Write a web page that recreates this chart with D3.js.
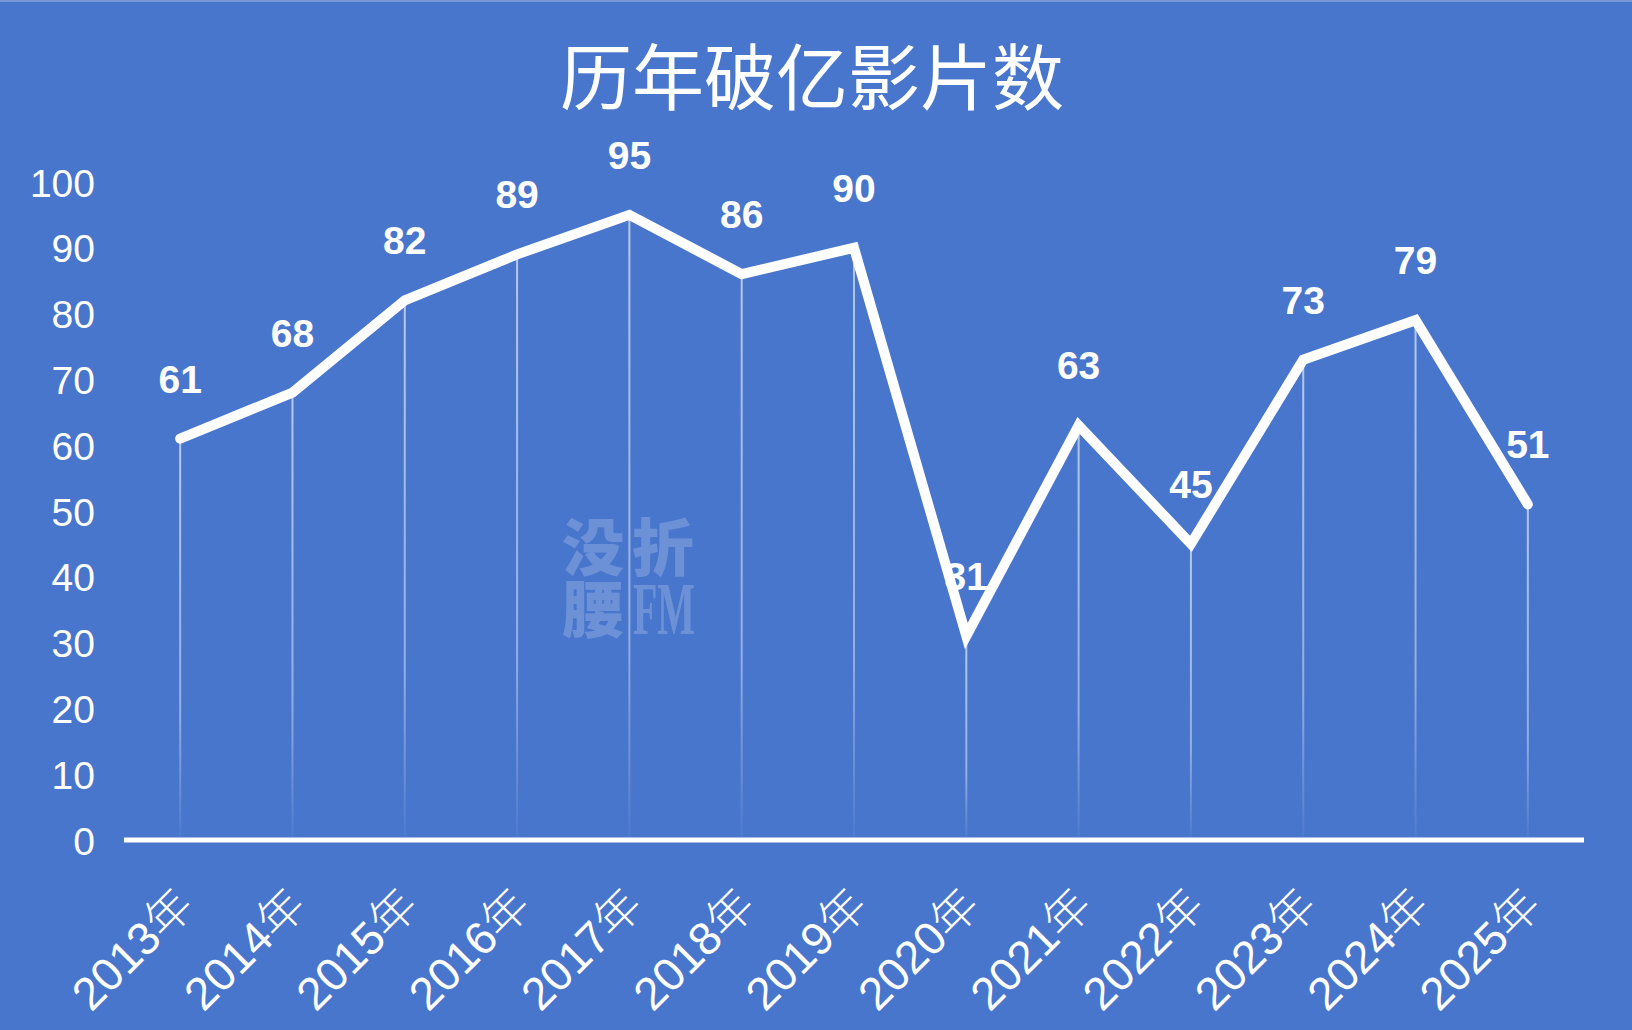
<!DOCTYPE html>
<html>
<head>
<meta charset="utf-8">
<script src="https://cdn.jsdelivr.net/npm/d3@7"></script>
<style>
  html, body { margin: 0; padding: 0; background: #4976CD; }
  svg { display: block; }
</style>
</head>
<body>
<script>
// ---- data ----
const years = ["2013年","2014年","2015年","2016年","2017年","2018年","2019年","2020年","2021年","2022年","2023年","2024年","2025年"];
const counts = [61, 68, 82, 89, 95, 86, 90, 31, 63, 45, 73, 79, 51];
const yTicks = [0, 10, 20, 30, 40, 50, 60, 70, 80, 90, 100];
const title = "历年破亿影片数";
const watermarkRow1 = ["没", "折"];
const watermarkRow2 = ["腰", "FM"];

const W = 1632, H = 1030;
const BG = "#4976CD";

const svg = d3.select("body").append("svg")
  .attr("width", W).attr("height", H);

const defs = svg.append("defs");
const grad = defs.append("linearGradient")
  .attr("id", "dropGrad")
  .attr("x1", 0).attr("y1", 0).attr("x2", 0).attr("y2", 1);
grad.append("stop").attr("offset", "0%").attr("stop-color", "#fff").attr("stop-opacity", 0.6);
grad.append("stop").attr("offset", "70%").attr("stop-color", "#fff").attr("stop-opacity", 0.4);
grad.append("stop").attr("offset", "100%").attr("stop-color", "#fff").attr("stop-opacity", 0.03);

svg.append("rect").attr("width", W).attr("height", H).attr("fill", BG);
svg.append("rect").attr("width", W).attr("height", 2).attr("fill", "#ffffff").attr("opacity", 0.25);

// ---- scales ----
const x = d3.scaleBand().domain(years).range([124, 1584]).paddingInner(0).paddingOuter(0);
const cx = d => x(d) + x.bandwidth() / 2;
const y = d3.scaleLinear().domain([0, 100]).range([840, 182]);

// ---- title ----
svg.append("text")
  .attr("x", 812).attr("y", 72)
  .attr("text-anchor", "middle")
  .attr("dominant-baseline", "central")
  .attr("font-family", "'Noto Sans CJK SC', sans-serif")
  .attr("font-weight", 400)
  .attr("font-size", 72)
  .attr("fill", "#fff")
  .text(title);

// ---- watermark ----
const wm = svg.append("g").attr("fill", "#fff").attr("opacity", 0.2);
wm.selectAll("text.r1").data(watermarkRow1).join("text")
  .attr("x", (d, i) => 593 + i * 70).attr("y", 544)
  .attr("text-anchor", "middle").attr("dominant-baseline", "central")
  .attr("font-family", "'Noto Sans CJK SC', sans-serif")
  .attr("font-weight", 900).attr("font-size", 62)
  .text(d => d);
wm.append("text")
  .attr("x", 593).attr("y", 606)
  .attr("text-anchor", "middle").attr("dominant-baseline", "central")
  .attr("font-family", "'Noto Sans CJK SC', sans-serif")
  .attr("font-weight", 900).attr("font-size", 62)
  .text(watermarkRow2[0]);
wm.append("text")
  .attr("x", 633).attr("y", 634)
  .attr("font-family", "'Liberation Serif', serif")
  .attr("font-weight", 700).attr("font-size", 74)
  .attr("textLength", 62).attr("lengthAdjust", "spacingAndGlyphs")
  .text(watermarkRow2[1]);

// ---- drop lines ----
svg.append("g").selectAll("rect").data(years).join("rect")
  .attr("x", d => cx(d) - 1)
  .attr("y", (d, i) => y(counts[i]))
  .attr("width", 2)
  .attr("height", (d, i) => y(0) - y(counts[i]) - 3)
  .attr("fill", "url(#dropGrad)");

// ---- y axis ----
const yAxis = svg.append("g")
  .attr("transform", "translate(124,0)")
  .call(d3.axisLeft(y).tickValues(yTicks).tickSize(0).tickPadding(29));
yAxis.select(".domain").remove();
yAxis.selectAll("text")
  .attr("fill", "#fff")
  .attr("font-family", "'Liberation Sans', Arial, sans-serif")
  .attr("font-size", 39)
  .attr("dy", "0.36em");

// ---- x axis ----
const xAxis = svg.append("g")
  .attr("transform", "translate(0,840)")
  .call(d3.axisBottom(x).tickSize(0).tickSizeOuter(0));
xAxis.select(".domain").remove();
xAxis.selectAll(".tick text")
  .attr("fill", "#fff")
  .attr("font-family", "'Liberation Sans', Arial, 'Noto Sans CJK SC', sans-serif")
  .attr("font-size", 46)
  .attr("text-anchor", "end")
  .attr("x", 0).attr("y", 0).attr("dy", 0)
  .attr("transform", "translate(16,68) rotate(-45)")
  .each(function(d) {
    const t = d3.select(this);
    t.text(null);
    t.append("tspan").text(d.replace("年", ""));
    t.append("tspan")
      .attr("font-family", "'Noto Sans CJK SC', sans-serif")
      .attr("font-weight", 300)
      .text("年");
  });

// baseline
svg.append("line")
  .attr("x1", x.range()[0]).attr("x2", x.range()[1])
  .attr("y1", y(0)).attr("y2", y(0))
  .attr("stroke", "#fff").attr("stroke-width", 5);

// ---- line ----
const line = d3.line()
  .x((d, i) => cx(years[i]))
  .y(d => y(d));
svg.append("path")
  .datum(counts)
  .attr("d", line)
  .attr("fill", "none")
  .attr("stroke", "#fff")
  .attr("stroke-width", 10)
  .attr("stroke-linecap", "round")
  .attr("stroke-linejoin", "miter");

// ---- value labels ----
svg.append("g").selectAll("text").data(counts).join("text")
  .attr("x", (d, i) => cx(years[i]))
  .attr("y", d => y(d) - 46)
  .attr("text-anchor", "middle")
  .attr("font-family", "'Liberation Sans', Arial, sans-serif")
  .attr("font-weight", 700)
  .attr("font-size", 39)
  .attr("fill", "#fff")
  .text(d => d);
</script>
</body>
</html>
